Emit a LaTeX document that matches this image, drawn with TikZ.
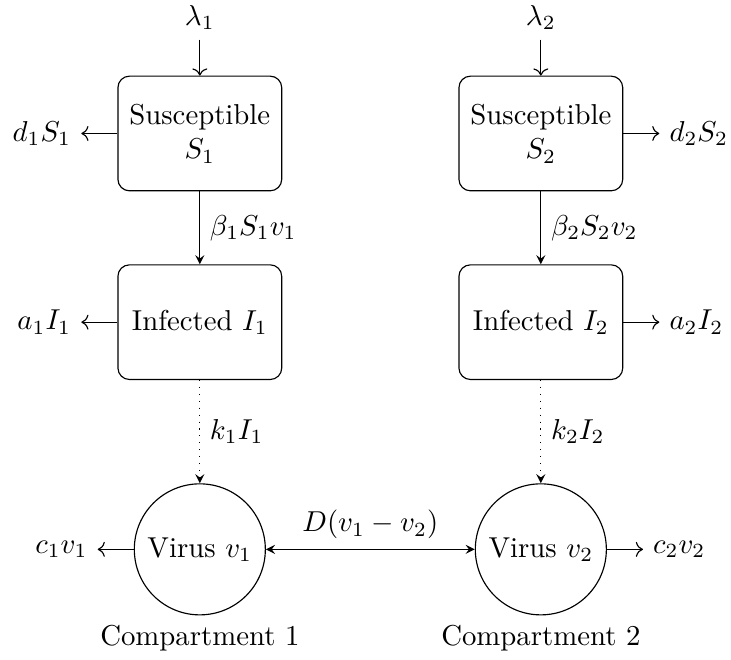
\documentclass[tikz,border=0pt]{standalone}
\usepackage{tikz}
\usetikzlibrary{arrows.meta, positioning}
\tikzset{
  popbox/.style={rectangle, rounded corners, draw, minimum width=2cm,
    minimum height=1.4cm, align=center},
  virnode/.style={circle, draw, minimum size=1.6cm},
  outflow/.style={->},
  infflow/.style={-stealth},
}
\begin{document}
\begin{tikzpicture}[node distance=0.44cm]
\useasboundingbox (0,0) rectangle (8.926,-8.047);

\node[popbox] (sus1) at (2.44,-1.63) {Susceptible\\ $S_1$};
\node[popbox, right=2.15cm of sus1] (sus2) {Susceptible\\ $S_2$};
\node[popbox, below=0.89cm of sus1] (inf1) {Infected $I_1$};
\node[popbox, below=0.89cm of sus2] (inf2) {Infected $I_2$};
\node[virnode, below=1.26cm of inf1, label={below:Compartment 1}] (vir1) {Virus $v_1$};
\node[virnode, below=1.26cm of inf2, label={below:Compartment 2}] (vir2) {Virus $v_2$};

\node[above=of sus1] (lam1) {$\lambda_1$};
\node[above=of sus2] (lam2) {$\lambda_2$};
\node[left=of sus1] (dS1) {$d_1S_1$};
\node[right=of sus2] (dS2) {$d_2S_2$};
\node[left=of inf1] (aI1) {$a_1I_1$};
\node[right=of inf2] (aI2) {$a_2I_2$};
\node[left=of vir1] (cv1) {$c_1v_1$};
\node[right=of vir2] (cv2) {$c_2v_2$};

\draw[outflow] (lam1) -- (sus1);
\draw[outflow] (lam2) -- (sus2);
\draw[outflow] (sus1) -- (dS1);
\draw[outflow] (sus2) -- (dS2);
\draw[outflow] (inf1) -- (aI1);
\draw[outflow] (inf2) -- (aI2);
\draw[outflow] (vir1) -- (cv1);
\draw[outflow] (vir2) -- (cv2);

\draw[infflow] (sus1) -- node[right] {$\beta_1S_1v_1$} (inf1);
\draw[infflow] (sus2) -- node[right] {$\beta_2S_2v_2$} (inf2);
\draw[infflow, dotted] (inf1) -- node[right] {$k_1I_1$} (vir1);
\draw[infflow, dotted] (inf2) -- node[right] {$k_2I_2$} (vir2);
\draw[stealth-stealth] (vir1) -- node[above] {$D(v_1-v_2)$} (vir2);
\end{tikzpicture}
\end{document}
